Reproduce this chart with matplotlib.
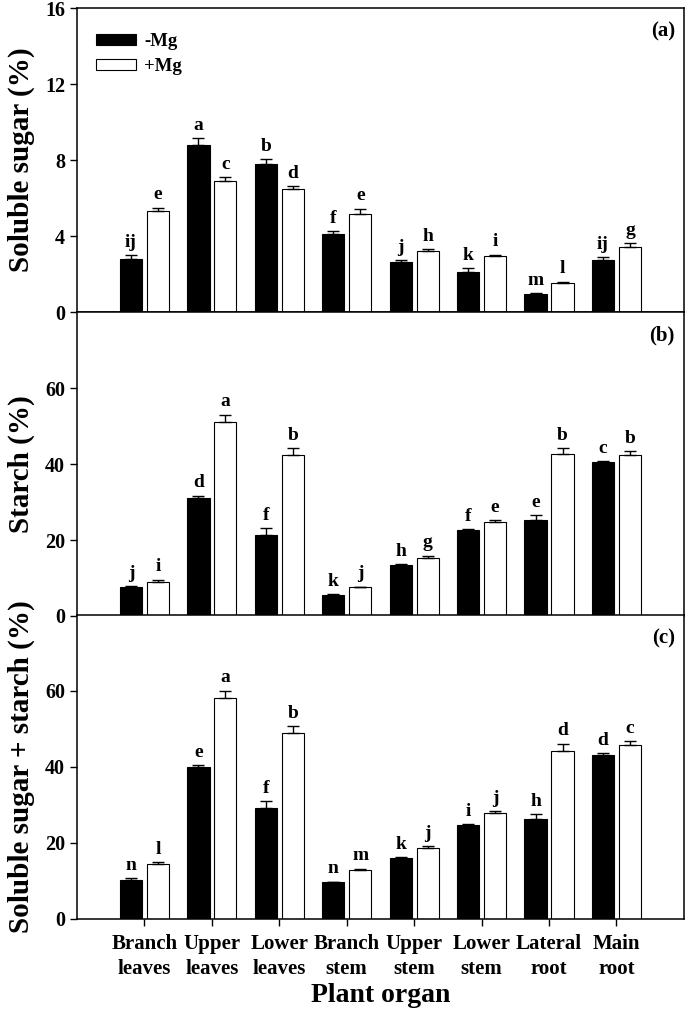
import matplotlib.pyplot as plt
import numpy as np

plt.rcParams['font.family'] = ['Liberation Serif', 'DejaVu Serif']
plt.rcParams['font.weight'] = 'bold'

organs = ['Branch\nleaves', 'Upper\nleaves', 'Lower\nleaves', 'Branch\nstem',
          'Upper\nstem', 'Lower\nstem', 'Lateral\nroot', 'Main\nroot']

# (a) soluble sugar
sugar_minus = [2.81, 8.79, 7.81, 4.09, 2.62, 2.10, 0.95, 2.76]
sugar_minus_err = [0.18, 0.37, 0.24, 0.16, 0.10, 0.21, 0.05, 0.14]
sugar_plus = [5.30, 6.89, 6.46, 5.18, 3.19, 2.93, 1.55, 3.44]
sugar_plus_err = [0.20, 0.21, 0.19, 0.26, 0.12, 0.09, 0.05, 0.21]
sugar_minus_let = ['ij', 'a', 'b', 'f', 'j', 'k', 'm', 'ij']
sugar_plus_let = ['e', 'c', 'd', 'e', 'h', 'i', 'l', 'g']

# (b) starch
starch_minus = [7.5, 31.0, 21.3, 5.5, 13.35, 22.6, 25.3, 40.45]
starch_minus_err = [0.45, 0.7, 1.85, 0.25, 0.25, 0.2, 1.15, 0.35]
starch_plus = [8.97, 51.0, 42.4, 7.55, 15.3, 24.8, 42.6, 42.3]
starch_plus_err = [0.6, 2.0, 1.75, 0.2, 0.6, 0.45, 1.6, 1.05]
starch_minus_let = ['j', 'd', 'f', 'k', 'h', 'f', 'e', 'c']
starch_plus_let = ['i', 'a', 'b', 'j', 'g', 'e', 'b', 'b']

# (c) soluble sugar + starch
total_minus = [10.3, 40.0, 29.3, 9.6, 16.05, 24.8, 26.4, 43.2]
total_minus_err = [0.45, 0.6, 1.75, 0.25, 0.2, 0.2, 1.2, 0.45]
total_plus = [14.4, 58.1, 49.0, 12.8, 18.6, 27.9, 44.3, 45.8]
total_plus_err = [0.6, 2.0, 1.85, 0.45, 0.6, 0.45, 1.85, 0.95]
total_minus_let = ['n', 'e', 'f', 'n', 'k', 'i', 'h', 'd']
total_plus_let = ['l', 'a', 'b', 'm', 'j', 'j', 'd', 'c']

panels = [
    (sugar_minus, sugar_minus_err, sugar_plus, sugar_plus_err,
     sugar_minus_let, sugar_plus_let, 'Soluble sugar (%)', 16, [0, 4, 8, 12, 16], '(a)'),
    (starch_minus, starch_minus_err, starch_plus, starch_plus_err,
     starch_minus_let, starch_plus_let, 'Starch (%)', 80, [0, 20, 40, 60], '(b)'),
    (total_minus, total_minus_err, total_plus, total_plus_err,
     total_minus_let, total_plus_let, 'Soluble sugar + starch (%)', 80, [0, 20, 40, 60], '(c)'),
]

fig = plt.figure(figsize=(6.85, 10.17), dpi=100)
tops = [0.9921, 0.6932, 0.3953]
h = 0.2989
x = np.arange(1, 9)
w = 0.33
off = 0.2

for i, (m, me, p, pe, ml, pl, ylab, ymax, yt, tag) in enumerate(panels):
    ax = fig.add_axes([0.1124, tops[i] - h, 0.886, h])
    ax.bar(x - off, m, w, color='black', edgecolor='black', lw=0.8, label='-Mg')
    ax.bar(x + off, p, w, color='white', edgecolor='black', lw=0.8, label='+Mg')
    ax.errorbar(x - off, m, yerr=[np.zeros(8), me], fmt='none', ecolor='black',
                elinewidth=1, capsize=4, capthick=1)
    ax.errorbar(x + off, p, yerr=[np.zeros(8), pe], fmt='none', ecolor='black',
                elinewidth=1, capsize=4, capthick=1)
    for xi, v, e, t in zip(x - off, m, me, ml):
        ax.annotate(t, (xi, v + e), xytext=(0, 3), textcoords='offset points',
                    ha='center', va='bottom', fontsize=14, fontweight='bold')
    for xi, v, e, t in zip(x + off, p, pe, pl):
        ax.annotate(t, (xi, v + e), xytext=(0, 3), textcoords='offset points',
                    ha='center', va='bottom', fontsize=14, fontweight='bold')
    ax.set_xlim(0, 9)
    ax.set_ylim(0, ymax)
    ax.set_yticks(yt)
    ax.tick_params(axis='y', direction='out', length=5, width=1, labelsize=14.5)
    ax.set_ylabel(ylab, fontsize=21, fontweight='bold', labelpad=7)
    ax.text(0.985, 0.955, tag, transform=ax.transAxes, ha='right', va='top',
            fontsize=15, fontweight='bold')
    for s in ax.spines.values():
        s.set_linewidth(1.1)
    if i < 2:
        ax.set_xticks([])
    else:
        ax.set_xticks(x)
        ax.set_xticklabels(organs, fontsize=15, fontweight='bold', linespacing=1.3)
        ax.tick_params(axis='x', direction='out', length=5, width=1, pad=6)
        ax.set_xlabel('Plant organ', fontsize=20, fontweight='bold', labelpad=3)
    if i == 0:
        ax.legend(loc='upper left', bbox_to_anchor=(0.012, 0.955), frameon=False,
                  fontsize=13.5, handlelength=2.15, handleheight=0.5,
                  handletextpad=0.45, borderaxespad=0.2, labelspacing=0.45)

fig.savefig('out.png', dpi=100)
